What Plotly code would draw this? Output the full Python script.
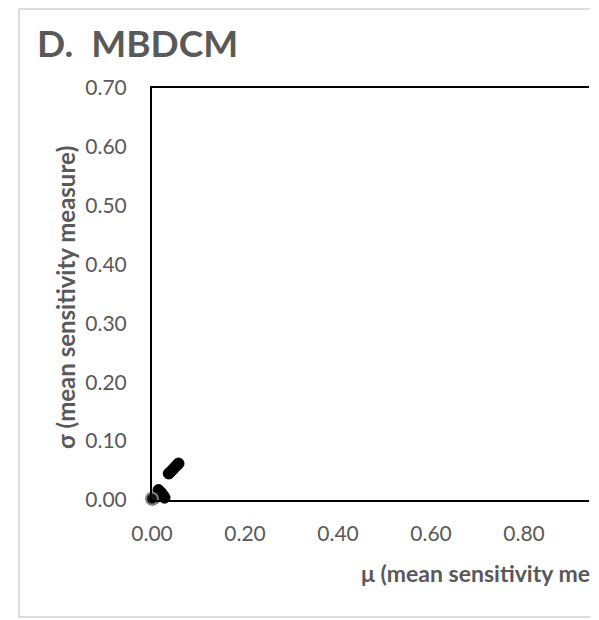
import plotly.graph_objects as go

# Data
mu_vals = [0.057, 0.052, 0.046, 0.040, 0.036, 0.014, 0.019, 0.024, 0.027, 0.006, 0.002]
sigma_vals = [0.062, 0.058, 0.053, 0.048, 0.045, 0.017, 0.013, 0.008, 0.004, 0.003, 0.001]
mu_highlight = [0.0]
sigma_highlight = [0.002]

x_ticks = [0.0, 0.2, 0.4, 0.6, 0.8]
y_ticks = [0.0, 0.1, 0.2, 0.3, 0.4, 0.5, 0.6, 0.7]

title_text = "D.\u00a0\u00a0MBDCM"
x_title = "μ (mean sensitivity measure)"
y_title = "σ (mean sensitivity measure)"

FONT = "Lato"
GREY = "#595959"

OFF = 8  # browser body margin
W, H = 590 - OFF, 620 - OFF
L, T = 152 - OFF, 88 - OFF
plot_right, plot_bottom = 589 - OFF, 500 - OFF
R, B = W - plot_right, H - plot_bottom
px_per_unit_x = 465.0
x_max = (plot_right - L) / px_per_unit_x


def px2paper_x(px):
    return (px - OFF - L) / (plot_right - L)


def px2paper_y(py):
    return (plot_bottom - (py - OFF)) / (plot_bottom - T)


fig = go.Figure()
fig.add_trace(go.Scatter(
    x=mu_vals, y=sigma_vals, mode="markers",
    marker=dict(size=11, color="black", line=dict(color="black", width=1)),
    cliponaxis=False, showlegend=False))
fig.add_trace(go.Scatter(
    x=mu_highlight, y=sigma_highlight, mode="markers",
    marker=dict(size=12, color="#111111", line=dict(color="#808080", width=2)),
    cliponaxis=False, showlegend=False))

border = dict(type="line", xref="paper", yref="paper",
              line=dict(color="#d0d0d0", width=1.5), layer="below")
bx0, bx1 = px2paper_x(19), px2paper_x(592)
by0, by1 = px2paper_y(617), px2paper_y(OFF + 1)
shapes = [
    dict(border, x0=bx0, x1=bx1, y0=by1, y1=by1),
    dict(border, x0=bx0, x1=bx1, y0=by0, y1=by0),
    dict(border, x0=bx0, x1=bx0, y0=by0, y1=by1),
]

annotations = [
    dict(text=f"<b>{title_text}</b>", xref="paper", yref="paper",
         x=px2paper_x(35), y=px2paper_y(42), xanchor="left", yanchor="middle",
         showarrow=False, font=dict(family=FONT, size=37, color=GREY)),
    dict(text=f"<b>{y_title}</b>", xref="paper", yref="paper",
         x=px2paper_x(65), y=px2paper_y(298), xanchor="center", yanchor="middle",
         textangle=-90, showarrow=False, font=dict(family=FONT, size=24, color=GREY)),
    dict(text=f"<b>{x_title}</b>", xref="paper", yref="paper",
         x=px2paper_x(359), y=px2paper_y(573), xanchor="left", yanchor="middle",
         showarrow=False, font=dict(family=FONT, size=23, color=GREY)),
]

fig.update_layout(
    width=W, height=H,
    margin=dict(l=L, r=R, t=T, b=B, pad=0),
    paper_bgcolor="white", plot_bgcolor="white",
    font=dict(family=FONT, color=GREY),
    shapes=shapes, annotations=annotations,
    xaxis=dict(range=[0, x_max], tickvals=x_ticks, ticktext=[f"{v:.2f}" for v in x_ticks],
               showgrid=False, zeroline=False, showline=True, mirror=True,
               linecolor="black", linewidth=2, ticks="outside", ticklen=14,
               tickcolor="rgba(0,0,0,0)", tickfont=dict(family=FONT, size=21, color=GREY)),
    yaxis=dict(range=[0, 0.70], tickvals=y_ticks, ticktext=[f"{v:.2f}" for v in y_ticks],
               showgrid=False, zeroline=False, showline=True, mirror=False,
               linecolor="black", linewidth=2, ticks="outside", ticklen=19,
               tickcolor="rgba(0,0,0,0)", tickfont=dict(family=FONT, size=21, color=GREY)),
)

fig.write_html("out.html")
